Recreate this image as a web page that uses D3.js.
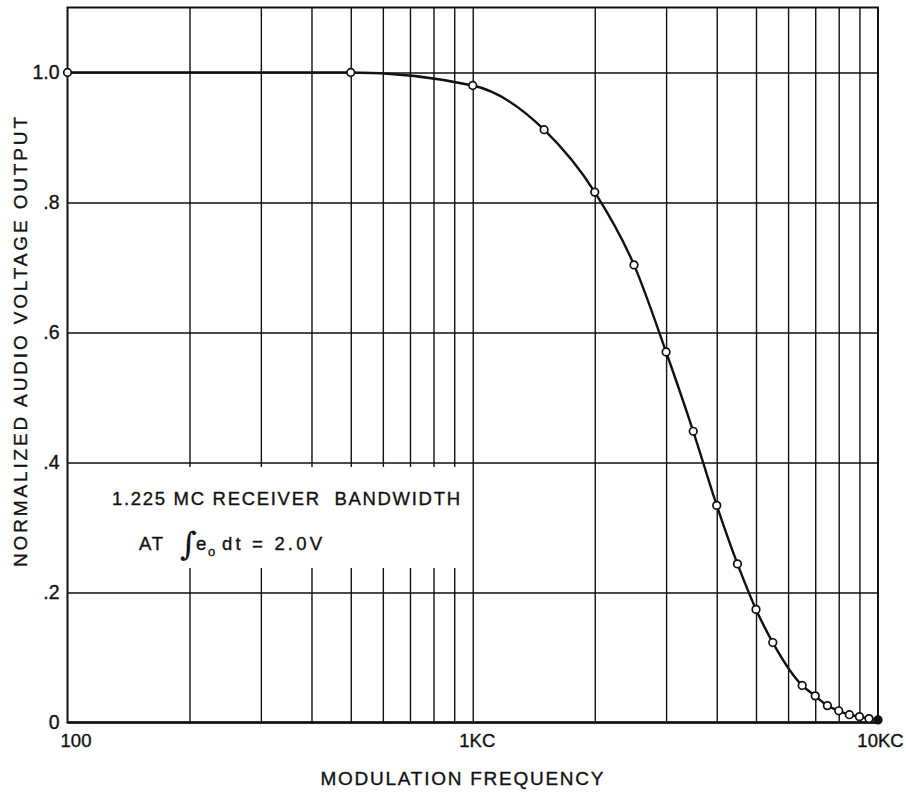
<!DOCTYPE html>
<html>
<head>
<meta charset="utf-8">
<script src="https://cdn.jsdelivr.net/npm/d3@7"></script>
<style>
  body { margin: 0; background: #fff; }
  text { font-family: "Liberation Sans", Arial, sans-serif; fill: #111; stroke: #111; stroke-width: 0.35px; white-space: pre; }
</style>
</head>
<body>
<div id="chart"></div>
<script>
// modulation frequency (cycles) and normalized audio output
var freqs = [100, 500, 1000, 1500, 2000, 2500, 3000, 3500, 4000, 4500, 5000, 5500, 6500, 7000, 7500, 8000, 8500, 9000, 9500, 10000];
var output = [1.0, 1.0, 0.98, 0.912, 0.816, 0.704, 0.570, 0.448, 0.334, 0.244, 0.174, 0.123, 0.057, 0.041, 0.026, 0.018, 0.012, 0.009, 0.006, 0.004];

var xTicks = [100, 1000, 10000];
var xTickLabels = ["100", "1KC", "10KC"];
var yTicks = [0, 0.2, 0.4, 0.6, 0.8, 1.0];
var yTickLabels = ["0", ".2", ".4", ".6", ".8", "1.0"];

var W = 906, H = 794;
var pLeft = 67.5, pRight = 878, pTop = 7.5, pBottom = 722.5;

var svg = d3.select("#chart").append("svg")
  .attr("width", W).attr("height", H);

svg.append("rect").attr("width", W).attr("height", H).attr("fill", "#fff");

var x = d3.scaleLog().domain([100, 10000]).range([pLeft, pRight]);
var y = d3.scaleLinear().domain([0, 1.1]).range([pBottom, pTop]);

// grid
var vgrid = svg.append("g").attr("transform", "translate(0," + pBottom + ")")
  .call(d3.axisBottom(x).tickValues(x.ticks().filter(function(d) { return d > 100 && d < 10000; }))
    .tickSize(-(pBottom - pTop)).tickFormat(""));
vgrid.select(".domain").remove();
vgrid.selectAll("line").attr("stroke", "#111").attr("stroke-width", 1.4);

var hgrid = svg.append("g").attr("transform", "translate(" + pLeft + ",0)")
  .call(d3.axisLeft(y).tickValues([0.2, 0.4, 0.6, 0.8, 1.0])
    .tickSize(-(pRight - pLeft)).tickFormat(""));
hgrid.select(".domain").remove();
hgrid.selectAll("line").attr("stroke", "#111").attr("stroke-width", 1.4);

// frame
svg.append("rect")
  .attr("x", pLeft).attr("y", pTop)
  .attr("width", pRight - pLeft).attr("height", pBottom - pTop)
  .attr("fill", "none").attr("stroke", "#111").attr("stroke-width", 2);
svg.append("line")
  .attr("x1", pLeft).attr("x2", pRight).attr("y1", pBottom).attr("y2", pBottom)
  .attr("stroke", "#111").attr("stroke-width", 2.6);

// note box
svg.append("rect")
  .attr("x", 100).attr("y", 467).attr("width", 366).attr("height", 101)
  .attr("fill", "#fff");

svg.append("text").attr("x", 112).attr("y", 505)
  .attr("font-size", 18.5).attr("textLength", 348).attr("lengthAdjust", "spacing")
  .text("1.225 MC RECEIVER  BANDWIDTH");
svg.append("text").attr("x", 139).attr("y", 550)
  .attr("font-size", 18.5).attr("textLength", 24).attr("lengthAdjust", "spacing")
  .text("AT");
svg.append("text").attr("x", 180).attr("y", 555)
  .attr("font-size", 32).style("font-family", "DejaVu Serif").style("font-style", "italic")
  .style("stroke-width", "0.2px")
  .text("\u222B");
svg.append("text").attr("x", 196).attr("y", 550)
  .attr("font-size", 18.5).text("e");
svg.append("text").attr("x", 208).attr("y", 556)
  .attr("font-size", 13).text("o");
svg.append("text").attr("x", 222).attr("y", 550)
  .attr("font-size", 18.5).attr("textLength", 100).attr("lengthAdjust", "spacing")
  .text("dt = 2.0V");

// curve
var pts = freqs.map(function(f, i) { return [x(f), y(output[i])]; });
svg.append("path")
  .attr("d", d3.line().curve(d3.curveMonotoneX)(pts))
  .attr("fill", "none").attr("stroke", "#111").attr("stroke-width", 2.4);

svg.selectAll("circle.pt")
  .data(freqs)
  .enter()
  .append("circle")
  .attr("class", "pt")
  .attr("cx", function(d) { return x(d); })
  .attr("cy", function(d, i) { return y(output[i]); })
  .attr("r", 3.8)
  .attr("fill", function(d, i) { return i == freqs.length - 1 ? "#111" : "#fff"; })
  .attr("stroke", "#111")
  .attr("stroke-width", 1.7);

// axes labels
var yAxis = svg.append("g").attr("transform", "translate(" + pLeft + ",0)")
  .call(d3.axisLeft(y).tickValues(yTicks).tickSize(0).tickPadding(8)
    .tickFormat(function(d, i) { return yTickLabels[i]; }));
yAxis.select(".domain").remove();
yAxis.selectAll("text").attr("font-size", 19.5).attr("font-family", null).attr("fill", "#111");

var xAxis = svg.append("g").attr("transform", "translate(0," + pBottom + ")")
  .call(d3.axisBottom(x).tickValues(xTicks).tickSize(0).tickPadding(11)
    .tickFormat(function(d, i) { return xTickLabels[i]; }));
xAxis.select(".domain").remove();
xAxis.selectAll("text").attr("font-size", 18.5).attr("font-family", null).attr("fill", "#111")
  .attr("dx", function(d) { return d == 100 ? 8 : (d == 1000 ? 4 : 2); });

svg.append("text")
  .attr("transform", "translate(27,342) rotate(-90)")
  .attr("text-anchor", "middle")
  .attr("font-size", 19).attr("textLength", 450).attr("lengthAdjust", "spacing")
  .text("NORMALIZED AUDIO VOLTAGE OUTPUT");

svg.append("text")
  .attr("x", 462).attr("y", 785)
  .attr("text-anchor", "middle")
  .attr("font-size", 19).attr("textLength", 283).attr("lengthAdjust", "spacing")
  .text("MODULATION FREQUENCY");
</script>
</body>
</html>
